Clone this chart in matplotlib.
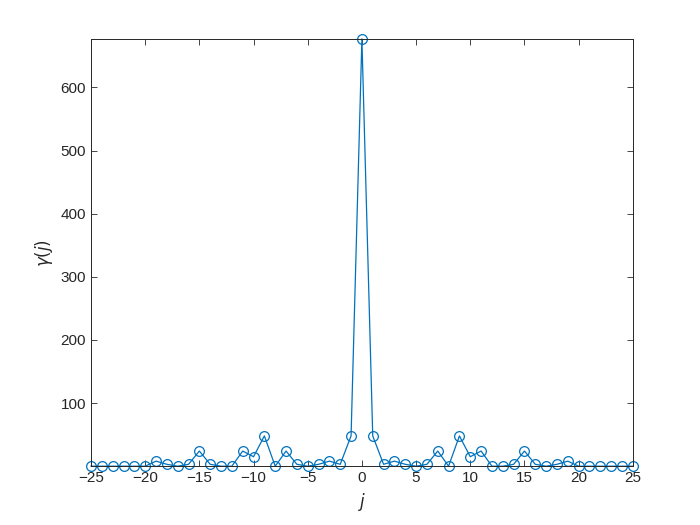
import matplotlib
matplotlib.use("Agg")
import matplotlib.pyplot as plt

# --- 数据 ---
lags = list(range(-25, 26))
right_half = [677, 48, 3, 8, 3, 0, 3, 24, 0, 48, 15, 24, 0, 0, 3, 24, 3, 0, 3, 8, 0, 0, 0, 0, 0, 0]
gamma = right_half[:0:-1] + right_half  # 对称的自相关
y_ticks = [100, 200, 300, 400, 500, 600]
x_ticks = list(range(-25, 26, 5))

plt.rcParams['font.family'] = ['Liberation Sans', 'DejaVu Sans']

fig = plt.figure(figsize=(7, 5.25), dpi=100)
ax = fig.add_axes([0.13, 0.112, 0.774, 0.814])

ax.plot(lags, gamma, color='#0072BD', linewidth=0.9, marker='o',
        markersize=7, markerfacecolor='none', markeredgewidth=0.9, clip_on=False)

ax.set_xlim(-25, 25)
ax.set_ylim(0, max(gamma))
ax.set_xticks(x_ticks)
ax.set_yticks(y_ticks)
ax.tick_params(direction='in', length=4, width=0.6, labelsize=11, colors='#262626',
               top=True, right=True)
for s in ax.spines.values():
    s.set_linewidth(0.7)
    s.set_color('#262626')

ax.set_xlabel(r'$j$', fontsize=12, color='#262626')
ax.set_ylabel(r'$\gamma(j)$', fontsize=12, color='#262626')

fig.savefig('out.png', dpi=100)
